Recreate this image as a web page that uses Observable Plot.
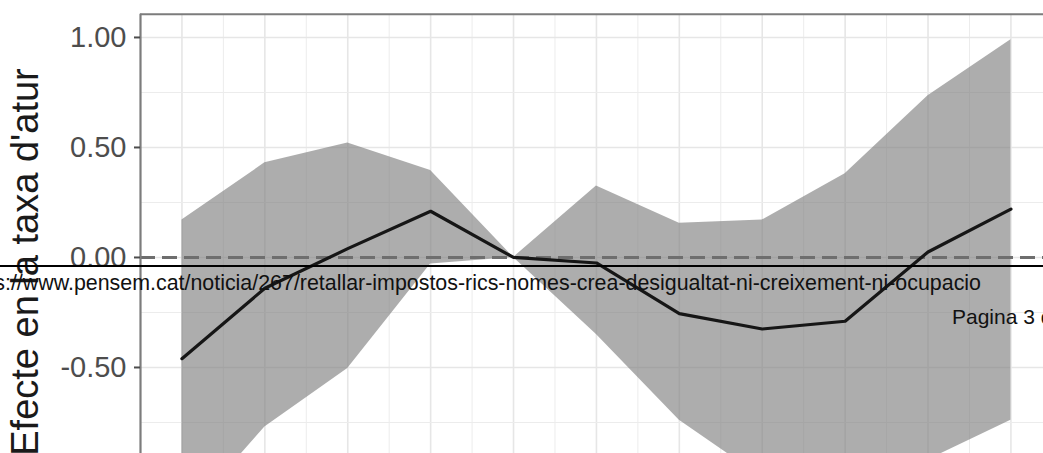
<!DOCTYPE html>
<html>
<head>
<meta charset="utf-8">
<script src="https://cdn.jsdelivr.net/npm/d3@7"></script>
<script src="https://cdn.jsdelivr.net/npm/@observablehq/plot@0.6"></script>
<style>
  html, body { margin: 0; padding: 0; background: #fff; overflow: hidden; }
  #wrap { position: relative; width: 1043px; height: 453px; overflow: hidden; font-family: "Liberation Sans", Arial, sans-serif; }
  #pagebreak { position: absolute; left: 0; top: 264.5px; width: 1043px; height: 2.5px; background: #000; }
  #url { position: absolute; right: 62px; top: 271px; font-size: 21.4px; color: #111; white-space: nowrap; }
  #page { position: absolute; left: 952px; top: 305px; font-size: 21px; color: #111; white-space: nowrap; }
</style>
</head>
<body>
<div id="wrap"></div>
<script>
// ---- data ----
const periods  = [-5, -4, -3, -2, -1, 0, 1, 2, 3, 4, 5];
const estimate = [-0.46, -0.14, 0.04, 0.21, 0.00, -0.025, -0.255, -0.325, -0.29, 0.025, 0.22];
const upper    = [0.17, 0.43, 0.52, 0.395, 0.00, 0.325, 0.155, 0.17, 0.38, 0.735, 0.99];
const lower    = [-1.2, -0.77, -0.505, -0.03, 0.00, -0.35, -0.74, -1.0, -1.1, -0.92, -0.74];
const yTicks   = [1.00, 0.50, 0.00, -0.50];
const yMinor   = [0.75, 0.25, -0.25, -0.75];
const xMinor   = [-4.5, -3.5, -2.5, -1.5, -0.5, 0.5, 1.5, 2.5, 3.5, 4.5];
const yTitle   = "Efecte en la taxa d'atur";
const urlText  = "https://www.pensem.cat/noticia/267/retallar-impostos-rics-nomes-crea-desigualtat-ni-creixement-ni-ocupacio";
const pageText = "Pagina 3 de 4";

const rows = periods.map((t, i) => ({t, est: estimate[i], hi: upper[i], lo: lower[i]}));

const xLeft = -5.5, xRight = 5.393;   // panel limits (ggplot expansion), cropped at right
const yBottom = -0.891, yTop = 1.168, panelTop = 1.105;

const chart = Plot.plot({
  width: 1043,
  height: 453,
  marginLeft: 140,
  marginRight: 0,
  marginTop: 0,
  marginBottom: 0,
  style: {fontFamily: "'Liberation Sans', Arial, sans-serif", background: "white"},
  x: {domain: [xLeft, xRight], axis: null},
  y: {domain: [yBottom, yTop], axis: null},
  marks: [
    // gridlines
    Plot.ruleX(xMinor, {x: d => d, y1: yBottom, y2: panelTop, stroke: "#ececec", strokeWidth: 1}),
    Plot.ruleX(periods, {x: d => d, y1: yBottom, y2: panelTop, stroke: "#e6e6e6", strokeWidth: 1.6}),
    Plot.ruleY(yMinor, {y: d => d, stroke: "#ececec", strokeWidth: 1}),
    Plot.ruleY(yTicks, {y: d => d, stroke: "#e6e6e6", strokeWidth: 1.6}),
    // confidence band
    Plot.areaY(rows, {x: "t", y1: "lo", y2: "hi", fill: "#7f7f7f", fillOpacity: 0.64, clip: true}),
    // zero reference
    Plot.ruleY([0], {stroke: "#6e6e6e", strokeWidth: 3, strokeDasharray: "15,7"}),
    // estimate
    Plot.line(rows, {x: "t", y: "est", stroke: "#161616", strokeWidth: 3.2, strokeLinejoin: "round", clip: true}),
    // panel border (top and left visible)
    Plot.ruleY([panelTop], {stroke: "#7c7c7c", strokeWidth: 2}),
    Plot.ruleX([xLeft], {y1: yBottom, y2: panelTop, stroke: "#7c7c7c", strokeWidth: 2.2}),
    // y axis
    Plot.axisY(yTicks, {
      tickFormat: d => d.toFixed(2),
      tickSize: 6,
      tickPadding: 8,
      fontSize: 29,
      color: "#4d4d4d",
      strokeWidth: 2,
      label: null
    }),
    // y axis title
    Plot.text([yTitle], {
      text: d => d,
      frameAnchor: "left",
      textAnchor: "middle",
      rotate: -90,
      dx: -115,
      dy: 35,
      fontSize: 38,
      fill: "#1a1a1a"
    })
  ]
});

const wrap = document.getElementById("wrap");
wrap.appendChild(chart);
chart.style.position = "absolute";
chart.style.left = "0";
chart.style.top = "0";

const pb = document.createElement("div"); pb.id = "pagebreak"; wrap.appendChild(pb);
const u = document.createElement("div"); u.id = "url"; u.textContent = urlText; wrap.appendChild(u);
const p = document.createElement("div"); p.id = "page"; p.textContent = pageText; wrap.appendChild(p);
</script>
</body>
</html>
